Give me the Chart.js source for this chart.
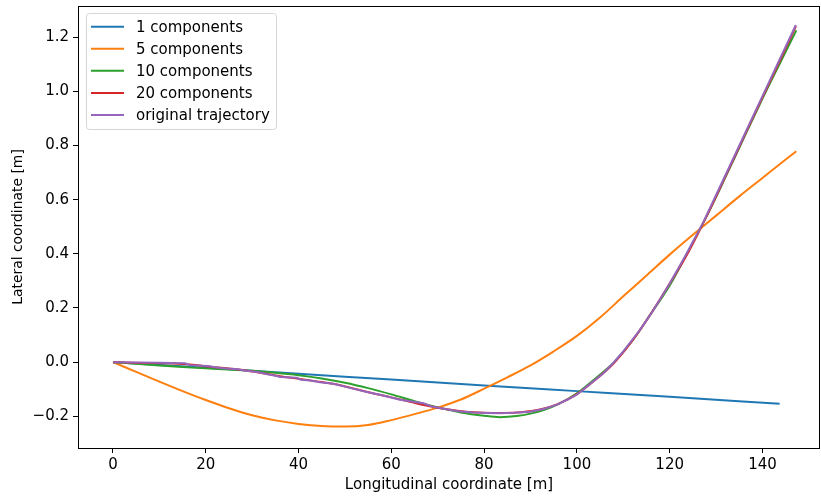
<!DOCTYPE html>
<html lang="en">
<head>
  <meta charset="UTF-8" />
  <title>Trajectory reconstruction</title>
  <script src="https://cdn.jsdelivr.net/npm/chart.js"></script>
  <style>
    html, body { margin: 0; padding: 0; background: #fff; }
  </style>
</head>
<body>
  <canvas id="trajChart" width="821" height="499"></canvas>

  <script>
    // series data (x = longitudinal [m], y = lateral [m])
    const seriesNames = ['1 components', '5 components', '10 components', '20 components', 'original trajectory'];
    const seriesColors = ['#1f77b4', '#ff7f0e', '#2ca02c', '#d62728', '#9467bd'];

    const comp1X = [0, 20, 40, 60, 80, 100, 120, 143.7];
    const comp1Y = [0, -0.021, -0.043, -0.064, -0.086, -0.107, -0.128, -0.154];

    const comp5X = [0, 5, 10, 15, 20, 25, 30, 35, 40, 45, 50, 55, 60, 65, 70, 75, 80, 85, 90, 95, 100, 105, 110, 115, 120, 125, 130, 135, 140, 145, 147.3];
    const comp5Y = [0, -0.036, -0.072, -0.107, -0.140, -0.170, -0.196, -0.215, -0.228, -0.236, -0.238, -0.232, -0.214, -0.192, -0.168, -0.138, -0.098, -0.056, -0.012, 0.040, 0.097, 0.165, 0.243, 0.320, 0.397, 0.470, 0.541, 0.612, 0.680, 0.748, 0.779];

    const comp10X = [0, 5, 10, 15, 20, 25, 30, 35, 40, 45, 50, 55, 60, 65, 70, 75, 80, 83.4, 87, 90, 93, 96, 100, 104, 108, 112, 116, 120, 124, 128, 132, 136, 140, 144, 147.3];
    const comp10Y = [0, -0.006, -0.012, -0.018, -0.023, -0.027, -0.032, -0.039, -0.048, -0.060, -0.076, -0.096, -0.119, -0.144, -0.167, -0.186, -0.198, -0.203, -0.199, -0.190, -0.176, -0.155, -0.115, -0.060, 0.0, 0.080, 0.180, 0.283, 0.410, 0.540, 0.682, 0.828, 0.973, 1.112, 1.225];

    const comp20X = [0, 4, 8, 12, 16, 20, 24, 28, 32, 36, 40, 44, 48, 52, 56, 60, 64, 68, 72, 76, 80, 84, 88, 92, 96, 100, 104, 108, 112, 116, 120, 124, 128, 132, 136, 140, 144, 147.2];
    const comp20Y = [0, -0.002, -0.003, -0.004, -0.008, -0.015, -0.022, -0.029, -0.040, -0.052, -0.061, -0.071, -0.082, -0.098, -0.115, -0.130, -0.146, -0.162, -0.174, -0.183, -0.187, -0.188, -0.185, -0.175, -0.154, -0.118, -0.065, -0.003, 0.080, 0.180, 0.290, 0.405, 0.540, 0.685, 0.832, 0.978, 1.122, 1.240];

    const origX = [0, 5, 10, 15.5, 16.6, 20.5, 21.6, 23.1, 27, 28, 31.7, 33, 35.3, 36, 39.6, 40.5, 42.5, 44.6, 47.5, 51.1, 54.5, 58, 61.9, 66.9, 69, 71.9, 74.5, 77.7, 80.5, 83.4, 86.5, 89.9, 93, 95.6, 98, 99.9, 102.5, 105.7, 107.8, 110, 113.6, 116.4, 120, 123.3, 127.2, 130, 133, 136.6, 140, 143.5, 147.2];
    const origY = [0, -0.001, -0.002, -0.004, -0.011, -0.014, -0.018, -0.022, -0.026, -0.030, -0.038, -0.044, -0.051, -0.055, -0.058, -0.065, -0.068, -0.074, -0.080, -0.095, -0.109, -0.122, -0.139, -0.152, -0.165, -0.174, -0.181, -0.186, -0.188, -0.189, -0.187, -0.183, -0.172, -0.158, -0.138, -0.121, -0.085, -0.041, -0.004, 0.040, 0.119, 0.190, 0.290, 0.390, 0.515, 0.617, 0.726, 0.858, 0.982, 1.110, 1.245];

    const xTicks = [0, 20, 40, 60, 80, 100, 120, 140];
    const xTickLabels = ['0', '20', '40', '60', '80', '100', '120', '140'];
    const yTicks = [-0.2, 0, 0.2, 0.4, 0.6, 0.8, 1.0, 1.2];
    const yTickLabels = ['\u22120.2', '0.0', '0.2', '0.4', '0.6', '0.8', '1.0', '1.2'];

    const allX = [comp1X, comp5X, comp10X, comp20X, origX];
    const allY = [comp1Y, comp5Y, comp10Y, comp20Y, origY];

    // the reference is a bit wider than tall, so horizontal text reads larger
    const FONT = { family: 'DejaVu Sans', size: 15 };
    const FONT_V = { family: 'DejaVu Sans', size: 13.9 };

    const datasets = seriesNames.map((name, i) => ({
      label: name,
      data: allX[i].map((x, j) => ({ x: x, y: allY[i][j] })),
      borderColor: seriesColors[i],
      backgroundColor: seriesColors[i],
      borderWidth: 2,
      pointRadius: 0,
      fill: false,
      cubicInterpolationMode: i < 4 ? 'monotone' : 'default',
      tension: 0,
      order: seriesNames.length - i   // later series drawn on top, like matplotlib
    }));

    // axes box on all four sides
    const framePlugin = {
      id: 'frame',
      afterDatasetsDraw(chart) {
        const a = chart.chartArea;
        const ctx = chart.ctx;
        ctx.save();
        ctx.strokeStyle = '#000';
        ctx.lineWidth = 1;
        ctx.strokeRect(Math.round(a.left) + 0.5, Math.round(a.top) + 0.5, Math.round(a.right - a.left) - 1, Math.round(a.bottom - a.top));
        ctx.restore();
      }
    };

    // matplotlib-style legend box in the upper left
    const legendPlugin = {
      id: 'boxLegend',
      afterDraw(chart) {
        const ctx = chart.ctx;
        const x0 = 86.5, y0 = 13.5, w = 190, h = 116, r = 3;
        ctx.save();
        ctx.beginPath();
        ctx.moveTo(x0 + r, y0);
        ctx.arcTo(x0 + w, y0, x0 + w, y0 + h, r);
        ctx.arcTo(x0 + w, y0 + h, x0, y0 + h, r);
        ctx.arcTo(x0, y0 + h, x0, y0, r);
        ctx.arcTo(x0, y0, x0 + w, y0, r);
        ctx.closePath();
        ctx.fillStyle = 'rgba(255,255,255,0.8)';
        ctx.fill();
        ctx.strokeStyle = '#d6d6d6';
        ctx.lineWidth = 1;
        ctx.stroke();

        ctx.font = FONT.size + 'px "' + FONT.family + '"';
        ctx.textBaseline = 'middle';
        ctx.fillStyle = '#000';
        seriesNames.forEach((name, i) => {
          const y = 26.7 + i * 22.08;
          ctx.beginPath();
          ctx.moveTo(91, y);
          ctx.lineTo(124, y);
          ctx.strokeStyle = seriesColors[i];
          ctx.lineWidth = 2;
          ctx.stroke();
          ctx.fillText(name, 136, y + 1);
        });
        ctx.restore();
      }
    };

    new Chart(document.getElementById('trajChart'), {
      type: 'line',
      data: { datasets: datasets },
      options: {
        responsive: false,
        animation: false,
        layout: { padding: { left: 0, top: 6, right: 1, bottom: 0 } },
        plugins: {
          legend: { display: false },
          tooltip: { enabled: false }
        },
        scales: {
          x: {
            type: 'linear',
            min: -7.54,
            max: 152.4,
            afterFit(scale) {
              scale.height = 51;
              scale.paddingLeft = 0;
              scale.paddingRight = 0;
            },
            afterBuildTicks(scale) { scale.ticks = xTicks.map(v => ({ value: v })); },
            ticks: {
              font: FONT,
              color: '#000',
              padding: 3,
              maxRotation: 0,
              callback: (v, i) => xTickLabels[i]
            },
            grid: { display: true, drawOnChartArea: false, drawTicks: true, tickLength: 5, tickWidth: 1, tickColor: '#000' },
            border: { display: false },
            title: {
              display: true,
              text: 'Longitudinal coordinate [m]',
              font: FONT,
              color: '#000',
              padding: { top: 4, bottom: 5 }
            }
          },
          y: {
            type: 'linear',
            min: -0.317,
            max: 1.315,
            afterFit(scale) {
              scale.width = 78;
              scale.paddingTop = 0;
              scale.paddingBottom = 0;
            },
            afterBuildTicks(scale) { scale.ticks = yTicks.map(v => ({ value: v })); },
            ticks: {
              font: FONT,
              color: '#000',
              padding: 4,
              callback: (v, i) => yTickLabels[i]
            },
            grid: { display: true, drawOnChartArea: false, drawTicks: true, tickLength: 5, tickWidth: 1, tickColor: '#000' },
            border: { display: false },
            title: {
              display: true,
              text: 'Lateral coordinate [m]',
              font: FONT_V,
              color: '#000',
              padding: { top: 10, bottom: 4 }
            }
          }
        }
      },
      plugins: [framePlugin, legendPlugin]
    });
  </script>
</body>
</html>
